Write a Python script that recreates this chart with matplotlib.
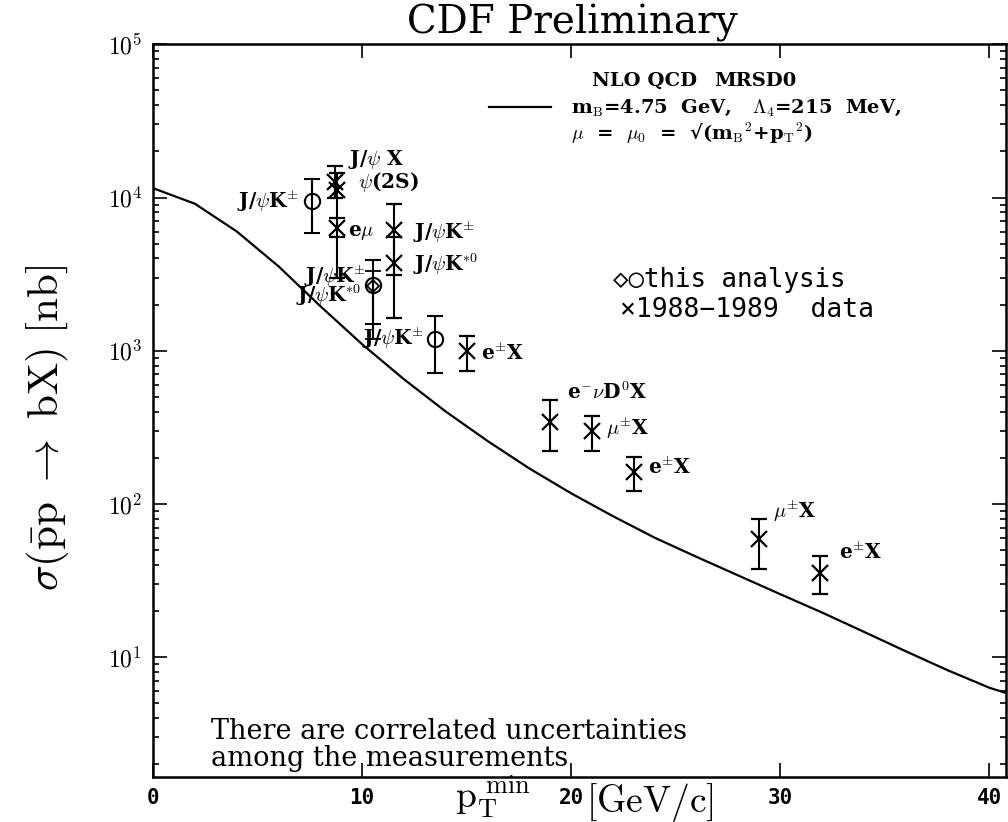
import numpy as np
import matplotlib.pyplot as plt

plt.rcParams['mathtext.fontset'] = 'cm'

# NLO QCD theory curve (MRSD0)
theory_pt = [0, 2, 4, 6, 8, 10, 12, 14, 16, 18, 20, 22, 24, 26, 28, 30, 32, 34, 36, 38, 40, 41]
theory_xs = [1.15e4, 9.1e3, 6.0e3, 3.55e3, 1.95e3, 1.1e3, 6.5e2, 4.0e2, 2.57e2, 1.7e2, 1.17e2,
             83, 60, 45, 34, 25.7, 19.5, 14.6, 10.9, 8.2, 6.3, 5.7]

# this analysis (circles)
circ_pt = [7.6, 10.5, 13.5]
circ_xs = [9.5e3, 2.7e3, 1.2e3]
circ_lo = [5.9e3, 1.5e3, 7.2e2]
circ_hi = [1.32e4, 3.9e3, 1.69e3]
circ_lab = [r'J/$\psi$K$^{\pm}$', '', r'J/$\psi$K$^{\pm}$']

# this analysis (diamond, hidden inside the circle at 10.5)
diam_pt = [10.5]
diam_xs = [2.65e3]
diam_lo = [1.2e3]
diam_hi = [3.3e3]

# 1988-1989 data (crosses)
cross_pt = [8.7, 8.8, 8.8, 11.5, 11.5, 15.0, 19.0, 21.0, 23.0, 29.0, 31.9]
cross_xs = [1.26e4, 1.12e4, 6.3e3, 6.1e3, 3.76e3, 1.0e3, 344, 297, 162, 58.5, 35.3]
cross_lo = [1.0e4, 3.0e3, 5.5e3, 3.1e3, 1.64e3, 7.4e2, 221, 221, 121, 37.8, 25.7]
cross_hi = [1.6e4, 1.45e4, 7.3e3, 9.1e3, 5.5e3, 1.25e3, 475, 375, 202, 80, 45.4]
cross_lab = [r'J/$\psi$ X', r'$\psi$(2S)', r'e$\mu$', r'J/$\psi$K$^{\pm}$', r'J/$\psi$K$^{*0}$',
             r'e$^{\pm}$X', r'e$^{-}\nu$D$^{0}$X', r'$\mu^{\pm}$X', r'e$^{\pm}$X', r'$\mu^{\pm}$X', r'e$^{\pm}$X']
# label offsets in points (dx, dy)
cross_off = [(9, 16), (15, 6), (8, -3), (14, -1), (14, -1), (10, -2), (12, 21), (10, 2),
             (10, 3), (10, 20), (14, 15)]
circ_off = [(-9, 0), (0, 0), (-8, 0)]

fig = plt.figure(figsize=(10.08, 8.22), dpi=100)
ax = fig.add_axes([0.152, 0.055, 0.846, 0.891])

ax.plot(theory_pt, theory_xs, color='black', lw=1.6)

eb = dict(ecolor='black', elinewidth=1.5, capsize=6, capthick=1.5)
c_err = [np.array(circ_xs) - np.array(circ_lo), np.array(circ_hi) - np.array(circ_xs)]
ax.errorbar(circ_pt, circ_xs, yerr=c_err, fmt='o', mfc='none', mec='black', ms=11, mew=1.5, **eb)
d_err = [np.array(diam_xs) - np.array(diam_lo), np.array(diam_hi) - np.array(diam_xs)]
ax.errorbar(diam_pt, diam_xs, yerr=d_err, fmt='D', mfc='none', mec='black', ms=6, mew=1.3, **eb)
x_err = [np.array(cross_xs) - np.array(cross_lo), np.array(cross_hi) - np.array(cross_xs)]
ax.errorbar(cross_pt, cross_xs, yerr=x_err, fmt='x', color='black', ms=12, mew=1.6, **eb)

lab_font = dict(fontsize=14.5, fontweight='bold', family='DejaVu Serif')
for x, y, t, (dx, dy) in zip(cross_pt, cross_xs, cross_lab, cross_off):
    ax.annotate(t, (x, y), xytext=(dx, dy), textcoords='offset points', ha='left', va='center', **lab_font)
for x, y, t, (dx, dy) in zip(circ_pt, circ_xs, circ_lab, circ_off):
    if t:
        ax.annotate(t, (x, y), xytext=(dx, dy), textcoords='offset points', ha='right', va='center', **lab_font)
# the two labels crowded at the overlapping point near 10.5 GeV
ax.annotate(r'J/$\psi$K$^{\pm}$', (circ_pt[1], circ_xs[1]), xytext=(-5, 6), textcoords='offset points',
            ha='right', va='center', **lab_font)
ax.annotate(r'J/$\psi$K$^{*0}$', (circ_pt[1], circ_xs[1]), xytext=(-8, -8), textcoords='offset points',
            ha='right', va='center', **lab_font)

ax.set_yscale('log')
ax.set_xlim(0, 40.8)
ax.set_ylim(1.65, 1e5)
ax.set_xticks([0, 10, 20, 30, 40])
ax.set_xticklabels(['0', '10', '20', '30', '40'], fontsize=15, fontweight='bold', family='DejaVu Sans Mono')
ax.set_yticks([1e1, 1e2, 1e3, 1e4, 1e5])
ax.set_yticklabels([r'$\mathbf{10^{%d}}$' % k for k in range(1, 6)], fontsize=17)
ax.tick_params(which='both', direction='in', top=True, right=True, width=1.2)
ax.tick_params(which='major', length=10, pad=8)
ax.tick_params(which='minor', length=4)
for s in ax.spines.values():
    s.set_linewidth(1.8)

fig.text(0.451, 0.031, r'$\rm p_T^{\ min}$', ha='left', va='center', fontsize=27)
fig.text(0.581, 0.024, r'$\rm [GeV/c]$', ha='left', va='center', fontsize=27)
fig.text(0.047, 0.48, r'$\sigma(\bar{\rm p}{\rm p}\ \rightarrow\ {\rm bX})\ [{\rm nb}]$', ha='center',
         va='center', rotation=90, fontsize=31)
fig.text(0.568, 0.972, 'CDF Preliminary', ha='center', va='center', fontsize=28, family='DejaVu Serif')

# theory legend
leg_font = dict(fontsize=14, fontweight='bold', family='DejaVu Serif', transform=ax.transAxes)
ax.plot([0.394, 0.466], [0.914, 0.914], color='black', lw=1.6, transform=ax.transAxes)
ax.text(0.515, 0.95, 'NLO QCD', ha='left', va='center', **leg_font)
ax.text(0.658, 0.95, 'MRSD0', ha='left', va='center', **leg_font)
ax.text(0.49, 0.914, r'm$_{\rm B}$=4.75  GeV,   $\Lambda_4$=215  MeV,', ha='left', va='center', **leg_font)
ax.text(0.49, 0.878, '$\\mu$  =  $\\mu_0$  =  \u221a(m$_{\\rm B}$$^2$+p$_{\\rm T}$$^2$)', ha='left',
        va='center', **leg_font)

mono = ['DejaVu Sans Mono', 'DejaVu Sans']
ax.text(0.539, 0.678, '\u25c7\u25cbthis analysis', ha='left', va='center', fontsize=18.5,
        family=mono, transform=ax.transAxes)
ax.text(0.547, 0.637, '\u00d71988\u22121989  data', ha='left', va='center', fontsize=19,
        family=mono, transform=ax.transAxes)

ax.text(0.068, 0.044, 'There are correlated uncertainties\namong the measurements', ha='left',
        va='center', fontsize=19.5, family='DejaVu Serif', linespacing=1.0, transform=ax.transAxes)

plt.savefig('out.png', dpi=100)
